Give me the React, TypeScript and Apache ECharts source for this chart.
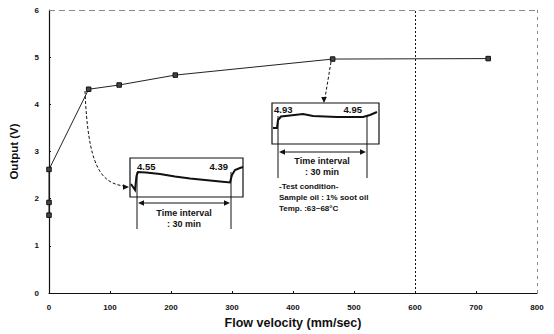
import React, { useEffect, useRef } from "react";
import * as echarts from "echarts";

const xValues = [0, 0, 0, 65, 115, 207, 465, 720];
const yValues = [1.65, 1.92, 2.62, 4.32, 4.41, 4.62, 4.96, 4.97];
const xTicks = [0, 100, 200, 300, 400, 500, 600, 700, 800];
const yTicks = [0, 1, 2, 3, 4, 5, 6];
const inset1Labels = ["4.55", "4.39"];
const inset2Labels = ["4.93", "4.95"];
const noteLines = ["-Test condition-", "Sample oil : 1% soot oil", "Temp. :63~68\u00b0C"];

const FONT = "Liberation Sans, Arial, sans-serif";

function arrowHead(x: number, y: number, dir: "l" | "r" | "d", s = 4) {
  let pts: number[][];
  if (dir === "l") pts = [[x, y], [x + s * 1.5, y - s * 0.7], [x + s * 1.5, y + s * 0.7]];
  else if (dir === "r") pts = [[x, y], [x - s * 1.5, y - s * 0.7], [x - s * 1.5, y + s * 0.7]];
  else pts = [[x, y], [x - s * 0.7, y - s * 1.5], [x + s * 0.7, y - s * 1.5]];
  return { type: "polygon", shape: { points: pts }, style: { fill: "#111" }, silent: true };
}

function txt(x: number, y: number, text: string, size: number, align = "left") {
  return {
    type: "text",
    x,
    y,
    silent: true,
    style: { text, fill: "#111", font: `bold ${size}px ${FONT}`, textAlign: align, textVerticalAlign: "middle" },
  };
}

export default function App() {
  const ref = useRef<HTMLDivElement>(null);
  useEffect(() => {
    if (!ref.current) return;
    const chart = echarts.init(ref.current, null, { renderer: "svg" });
    const data = xValues.map((x, i) => [x, yValues[i]]);
    const line = (pts: number[][], w = 1.2, dash?: number[]) => ({
      type: "polyline",
      shape: { points: pts },
      style: { stroke: "#111", lineWidth: w, fill: null, lineDash: dash },
      silent: true,
    });
    const graphic: any[] = [
      // inset 1
      { type: "rect", shape: { x: 130, y: 158, width: 113, height: 39 }, style: { fill: "#fff", stroke: "#111", lineWidth: 1.2 }, silent: true },
      line([[131, 184], [135, 190], [136.5, 176], [138, 172], [146, 172.5], [160, 174], [175, 176.5], [190, 178.5], [205, 180], [220, 181.5], [230, 182.5], [232, 175], [235, 170], [240, 168], [243, 167]], 2),
      txt(137, 166, inset1Labels[0], 9.5),
      txt(228, 166, inset1Labels[1], 9.5, "right"),
      line([[137, 172], [137, 229]], 1),
      line([[231, 172], [231, 229]], 1),
      line([[140, 203], [228, 203]], 1),
      arrowHead(138, 203, "l"),
      arrowHead(230, 203, "r"),
      txt(184, 213, "Time interval", 9, "center"),
      txt(184, 224, ": 30 min", 9, "center"),
      // inset 2
      { type: "rect", shape: { x: 272, y: 103, width: 107, height: 41 }, style: { fill: "#fff", stroke: "#111", lineWidth: 1.2 }, silent: true },
      line([[273, 128], [277, 128], [278, 120], [281, 116.5], [290, 115.5], [303, 114], [313, 116], [337, 117], [363, 117], [370, 115], [377, 112]], 2),
      txt(274, 109, inset2Labels[0], 9.5),
      txt(362, 109, inset2Labels[1], 9.5, "right"),
      line([[278, 116], [278, 178]], 1),
      line([[367, 116], [367, 178]], 1),
      line([[281, 152], [364, 152]], 1),
      arrowHead(279, 152, "l"),
      arrowHead(366, 152, "r"),
      txt(322, 161, "Time interval", 9, "center"),
      txt(322, 172, ": 30 min", 9, "center"),
      txt(279, 186, noteLines[0], 8),
      txt(279, 197, noteLines[1], 8),
      txt(279, 208, noteLines[2], 8),
      // dashed curved arrows
      {
        type: "bezierCurve",
        shape: { x1: 85, y1: 91, x2: 124, y2: 186, cpx1: 88, cpy1: 165, cpx2: 100, cpy2: 183 },
        style: { stroke: "#111", lineWidth: 1, lineDash: [3, 2], fill: null },
        silent: true,
      },
      arrowHead(129, 187, "r"),
      line([[331, 62], [325, 98]], 1, [3, 2]),
      arrowHead(324, 103, "d"),
    ];
    chart.setOption({
      animation: false,
      grid: { left: 45, right: 17, top: 10, bottom: 41 },
      xAxis: {
        type: "value",
        min: 0,
        max: 800,
        interval: 100,
        name: "Flow velocity (mm/sec)",
        nameLocation: "middle",
        nameGap: 23,
        nameTextStyle: { fontFamily: FONT, fontWeight: "bold", fontSize: 12.5, color: "#111" },
        axisLine: { lineStyle: { color: "#111", width: 1.2 } },
        axisTick: { inside: true, length: 2, lineStyle: { color: "#111" } },
        axisLabel: { fontFamily: FONT, fontWeight: "bold", fontSize: 8, color: "#111", margin: 10 },
        splitLine: { show: false },
        data: xTicks,
      },
      yAxis: {
        type: "value",
        min: 0,
        max: 6,
        interval: 1,
        name: "Output (V)",
        nameLocation: "middle",
        nameGap: 29,
        nameTextStyle: { fontFamily: FONT, fontWeight: "bold", fontSize: 11.5, color: "#111" },
        axisLine: { lineStyle: { color: "#111", width: 1.2 } },
        axisTick: { inside: true, length: 2, lineStyle: { color: "#111" } },
        axisLabel: { fontFamily: FONT, fontWeight: "bold", fontSize: 8, color: "#111", margin: 10 },
        splitLine: { show: false },
        data: yTicks,
      },
      series: [
        {
          type: "line",
          data,
          symbol: "rect",
          symbolSize: 4.5,
          itemStyle: { color: "#444", borderColor: "#111", borderWidth: 1 },
          lineStyle: { color: "#222", width: 1 },
          z: 3,
          markLine: {
            silent: true,
            symbol: "none",
            label: { show: false },
            data: [
              { xAxis: 600, lineStyle: { color: "#111", type: [2, 2], width: 1 } },
              { xAxis: 800, lineStyle: { color: "#888", type: [3, 4], width: 1 } },
              { yAxis: 6, lineStyle: { color: "#888", type: [6, 4], width: 1 } },
            ],
          },
        },
      ],
      graphic,
    });
    return () => chart.dispose();
  }, []);
  return <div ref={ref} style={{ width: 554, height: 334, position: "absolute", left: 0, top: 0, background: "#fff" }} />;
}
